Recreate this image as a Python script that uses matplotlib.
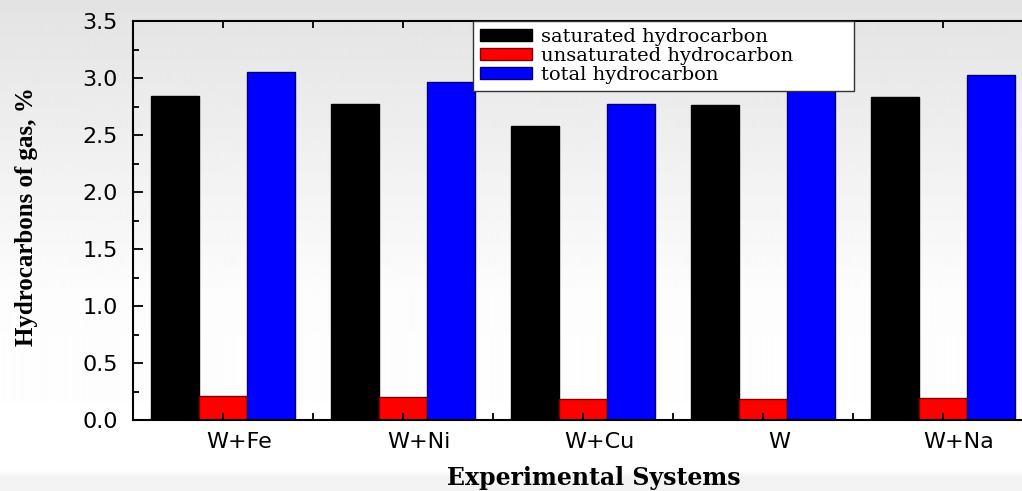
import numpy as np
import matplotlib
matplotlib.use("Agg")
import matplotlib.pyplot as plt
from matplotlib.transforms import ScaledTranslation
from matplotlib.ticker import MultipleLocator

categories = ["W+Fe", "W+Ni", "W+Cu", "W", "W+Na"]
saturated = [2.84, 2.77, 2.58, 2.76, 2.83]
unsaturated = [0.21, 0.20, 0.18, 0.185, 0.19]
total = [3.05, 2.965, 2.77, 2.945, 3.03]
series_names = ["saturated hydrocarbon", "unsaturated hydrocarbon", "total hydrocarbon"]

fig = plt.figure(figsize=(10.22, 4.91), dpi=100)

# background gradient
bg = fig.add_axes([0, 0, 1, 1], zorder=-10)
rows = np.linspace(0, 1, 491)
vals = np.interp(rows, [0, 0.6, 0.96, 0.975, 1.0], [0.89, 0.99, 1.0, 0.95, 0.95])
bg.imshow(vals[:, None] * np.ones((1, 10)), cmap="gray", vmin=0, vmax=1,
          aspect="auto", extent=[0, 1, 0, 1], origin="upper")
bg.axis("off")

ax = fig.add_axes([133/1022, 1-420/491, 900/1022, 399/491])
ax.patch.set_visible(False)

x = np.arange(len(categories))
w = 0.265
ax.bar(x - w, saturated, w, color="black", edgecolor="black", linewidth=1, label=series_names[0])
ax.bar(x, unsaturated, w, color="#ff0000", edgecolor="#800000", linewidth=1, label=series_names[1])
ax.bar(x + w, total, w, color="#0000ff", edgecolor="#000070", linewidth=1, label=series_names[2])

ax.set_xlim(-0.5, 4.5)
ax.set_ylim(0, 3.5)
ax.yaxis.set_major_locator(MultipleLocator(0.5))
ax.yaxis.set_minor_locator(MultipleLocator(0.25))
ax.set_xticks(x)
ax.set_xticks(x + 0.5, minor=True)
ax.set_xticklabels(categories, fontsize=16, family="DejaVu Sans")
ax.set_yticklabels([f"{v:.1f}" for v in ax.get_yticks()], fontsize=16, family="DejaVu Sans")

ax.tick_params(axis="both", which="both", direction="in", top=True, width=1.3, color="black")
ax.tick_params(axis="y", which="major", length=7, pad=11)
ax.tick_params(axis="y", which="minor", length=4)
ax.tick_params(axis="x", which="major", length=5, pad=9)
ax.tick_params(axis="x", which="minor", length=5)

off = ScaledTranslation(0.16, 0, fig.dpi_scale_trans)
for lab in ax.get_xticklabels():
    lab.set_transform(lab.get_transform() + off)

for s in ["left", "bottom", "top"]:
    ax.spines[s].set_linewidth(1.5)
ax.spines["right"].set_visible(False)

ax.set_xlabel("Experimental Systems", fontsize=17, family="DejaVu Serif",
              fontweight="bold")
ax.xaxis.set_label_coords((594-133)/900, -(478-420)/399, transform=None) if False else None
ax.xaxis.set_label_coords((594-133)/900, -(478-420)/399)
ax.xaxis.label.set_va("center")
ax.set_ylabel("Hydrocarbons of gas, %", fontsize=18, family="Liberation Serif",
              fontweight="bold")
ax.yaxis.set_label_coords(-(133-27)/900, 1-(217-21)/399)
ax.yaxis.label.set_va("center")

leg = ax.legend(loc="upper left", bbox_to_anchor=((473-133)/900, 0.0, (854-473)/900, 1.0),
                mode="expand", borderaxespad=0,
                prop={"family": "DejaVu Serif", "size": 14}, frameon=True, fancybox=False,
                handlelength=2.7, handleheight=0.55, labelspacing=0.06, borderpad=0.35,
                handletextpad=0.45)
leg.get_frame().set_edgecolor("#333333")
leg.get_frame().set_linewidth(1)
leg.get_frame().set_alpha(1)

fig.savefig("out.png", dpi=100)
